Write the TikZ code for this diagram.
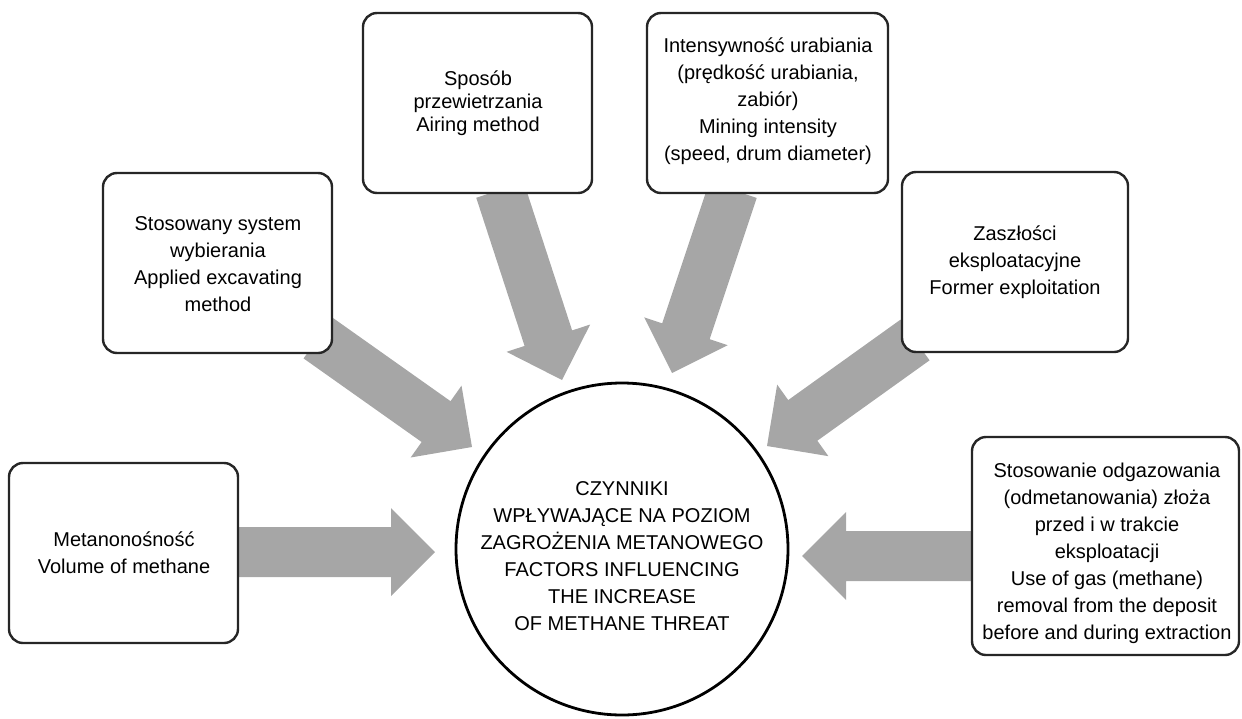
\documentclass[tikz,border=0pt]{standalone}
\usepackage{fontspec}
\setmainfont{Liberation Sans}
\usepackage{tikz}
\usetikzlibrary{calc}

\newcommand{\fatarrow}[2]{%
  \coordinate (headbase) at ($(#2)!44pt!(#1)$);
  \fill[arrowfill] ($(#1)!25pt!90:(#2)$) -- ($(headbase)!25pt!90:(#2)$) -- ($(headbase)!44pt!90:(#2)$)
     -- (#2) -- ($(headbase)!44pt!-90:(#2)$) -- ($(headbase)!25pt!-90:(#2)$) -- ($(#1)!25pt!-90:(#2)$) -- cycle;}

\begin{document}
\begin{tikzpicture}[x=1pt,y=-1pt,
    font=\fontsize{20}{27}\selectfont,
    arrowfill/.style={fill=gray!70},
    factor/.style={draw=black!85, line width=2.4pt, rounded corners=14pt, fill=white},
    label/.style={align=center, inner sep=0pt}]
      \useasboundingbox (0,0) rectangle (1242,718);
      % arrow ends
      \coordinate (metanout) at (230,552);  \coordinate (metanin) at (435,552);
      \coordinate (stosout) at (318,338);   \coordinate (stosin) at (472,447);
      \coordinate (sposout) at (500,190);   \coordinate (sposin) at (562,380);
      \coordinate (intenout) at (733,190);  \coordinate (intenin) at (672,373);
      \coordinate (zaszout) at (915,340);   \coordinate (zaszin) at (767,446);
      \coordinate (odgazout) at (980,556);  \coordinate (odgazin) at (802,556);
      \fatarrow{metanout}{metanin}
      \fatarrow{stosout}{stosin}
      \fatarrow{sposout}{sposin}
      \fatarrow{intenout}{intenin}
      \fatarrow{zaszout}{zaszin}
      \fatarrow{odgazout}{odgazin}
      % boxes
      \draw[factor] (9,463) rectangle (238,643);
      \draw[factor] (103,173) rectangle (332,353);
      \draw[factor] (363,13) rectangle (592,193);
      \draw[factor] (647,13) rectangle (888,193);
      \draw[factor] (902,172) rectangle (1128,352);
      \draw[factor] (972,437) rectangle (1239,655);
      \draw[black, line width=2.8pt, fill=white] (622,549) circle (166);
      % texts
      \node (metan) at (124,553) [label] {Metanonośność\\Volume of methane};
      \node (stos) at (218,264) [label] {Stosowany system\\wybierania\\Applied excavating\\method};
      \node (spos) at (478,103) [label, font=\fontsize{20}{23}\selectfont] {Sposób\\przewietrzania\\Airing method};
      \node (inten) at (768,101) [label] {Intensywność urabiania\\(prędkość urabiania,\\zabiór)\\Mining intensity\\(speed, drum diameter)};
      \node (zasz) at (1015,262) [label] {Zaszłości\\eksploatacyjne\\Former exploitation};
      \node (odgaz) at (1107,553) [label] {Stosowanie odgazowania\\(odmetanowania) złoża\\przed i w trakcie\\eksploatacji\\Use of gas (methane)\\removal from the deposit\\before and during extraction};
      \node (czynniki) at (622,556) [label] {CZYNNIKI\\WPŁYWAJĄCE NA POZIOM\\ZAGROŻENIA METANOWEGO\\FACTORS INFLUENCING\\THE INCREASE\\OF METHANE THREAT};
\end{tikzpicture}
\end{document}
